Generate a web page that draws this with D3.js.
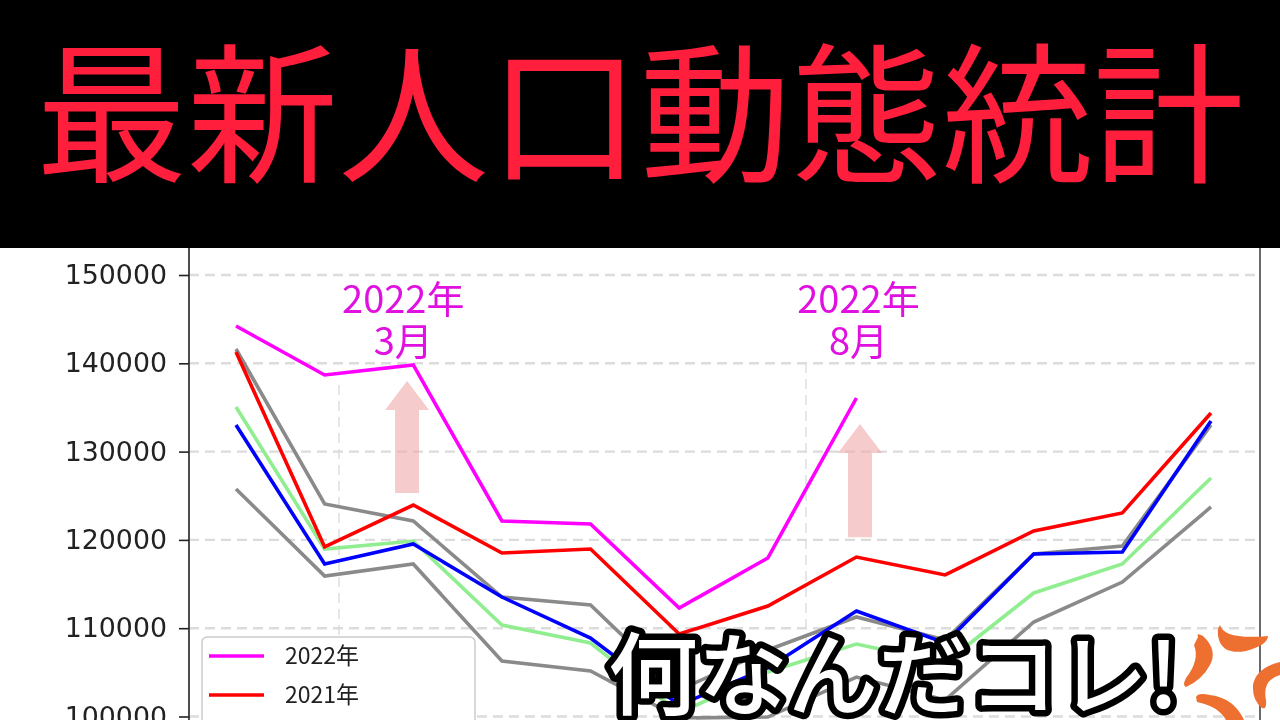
<!DOCTYPE html>
<html><head><meta charset="utf-8">
<script src="https://cdn.jsdelivr.net/npm/d3@7"></script>
<style>html,body{margin:0;padding:0;background:#fff;overflow:hidden}svg{display:block}</style>
</head><body><svg id="c" width="1280" height="720"></svg>
<script>
const months=[1,2,3,4,5,6,7,8,9,10,11,12];
const yTicks=[100000,110000,120000,130000,140000,150000];
const y2022=[144220,138680,139810,122140,121800,112290,117950,136070];
const y2021=[141280,119200,123950,118520,118970,109340,112510,118060,116030,121010,123050,134370];
const y2020=[133010,117270,119540,113530,108890,101300,105490,111950,108320,118400,118630,133470];
const y2019=[135050,118970,119870,110360,108320,100400,105040,108200,106060,113990,117270,127010];
const y2018=[141620,124070,122140,113530,112630,103000,107530,111270,108660,118400,119310,133010];
const y2017=[125770,115910,117270,106290,105150,99830,99940,104470,101870,110700,115230,123730];
const legendLabels=["2022年","2021年","2020年"];
const title="最新人口動態統計";
const callout="何なんだコレ!";
const notes=[{m:3,lines:["2022年","3月"]},{m:8,lines:["2022年","8月"]}];
const arrows=[{m:2.93,from:125300,to:138000},{m:8.04,from:120300,to:133130}];

const svg=d3.select("#c");
const x=d3.scaleLinear().domain([1,12]).range([236,1211]);
const y=d3.scaleLinear().domain([100000,150000]).range([716.5,275]);
const jp='"Noto Sans CJK JP",sans-serif';

const defs=svg.append("defs");
defs.append("filter").attr("id","soft").append("feGaussianBlur").attr("stdDeviation",0.55);

const chart=svg.append("g").attr("filter","url(#soft)");
chart.append("g").selectAll("line").data(yTicks).join("line")
 .attr("x1",189).attr("x2",1260).attr("y1",d=>y(d)).attr("y2",d=>y(d))
 .attr("stroke","#dcdcdc").attr("stroke-width",2.4).attr("stroke-dasharray","10 6");
chart.append("g").selectAll("line").data([{x:339,t:385},{x:806,t:363}]).join("line")
 .attr("x1",d=>d.x).attr("x2",d=>d.x).attr("y1",d=>d.t).attr("y2",720)
 .attr("stroke","#dcdcdc").attr("stroke-width",1.4).attr("stroke-dasharray","10 6");
const line=d3.line().x((d,i)=>x(months[i])).y(d=>y(d));
[[y2017,"#8a8a8a"],[y2018,"#8a8a8a"],[y2019,"#90ee90"],[y2020,"#0000ff"],[y2021,"#ff0000"],[y2022,"#ff00ff"]]
 .forEach(([s,c])=>chart.append("path").datum(s).attr("d",line).attr("fill","none")
   .attr("stroke",c).attr("stroke-width",3.6).attr("stroke-linejoin","miter"));
arrows.forEach(a=>{
 const cx=x(a.m),t=y(a.to),b=y(a.from);
 chart.append("path").attr("d",`M${cx},${t}L${cx+22},${t+29}L${cx+12},${t+29}L${cx+12},${b}L${cx-12},${b}L${cx-12},${t+29}L${cx-22},${t+29}Z`)
  .attr("fill","#f0a8a8").attr("opacity",0.6);
});
const ax=d3.axisLeft(y).tickValues(yTicks).tickSize(10).tickPadding(12).tickFormat(d3.format("d"));
const axg=chart.append("g").attr("transform","translate(189,0)").call(ax);
axg.selectAll("text").attr("font-family","'DejaVu Sans',sans-serif").attr("font-size",26.8).attr("fill","#222");
axg.selectAll("line").attr("stroke","#222").attr("stroke-width",1.6);
axg.select(".domain").attr("d","M0,240V720").attr("stroke","#222").attr("stroke-width",1.6);
chart.append("line").attr("x1",1260).attr("x2",1260).attr("y1",240).attr("y2",720).attr("stroke","#444").attr("stroke-width",1.6);
const lg=chart.append("g");
lg.append("rect").attr("x",202).attr("y",637).attr("width",273).attr("height",130).attr("rx",5)
 .attr("fill","#fff").attr("stroke","#ccc").attr("stroke-width",1.5);
[["#ff00ff",656],["#ff0000",695],["#0000ff",734]].forEach(([c,ly],i)=>{
 lg.append("line").attr("x1",209).attr("x2",264).attr("y1",ly).attr("y2",ly).attr("stroke",c).attr("stroke-width",3.6);
 lg.append("text").attr("x",285).attr("y",ly+8).text(legendLabels[i]).attr("font-family",jp).attr("font-size",23).attr("fill","#222");
});
notes.forEach(n=>{
 const cx=x(n.m)+(n.m===3?-10:2);
 n.lines.forEach((l,i)=>svg.append("text").attr("x",cx).attr("y",313+i*42).attr("text-anchor","middle")
  .attr("font-family",jp).attr("font-size",38).attr("fill","#e010e0").text(l));
});
svg.append("rect").attr("x",0).attr("y",0).attr("width",1280).attr("height",248).attr("fill","#000");
svg.append("text").attr("x",640).attr("y",171).attr("text-anchor","middle").attr("font-family",jp)
 .attr("font-size",151).attr("font-weight",400).attr("fill","#ff1e3c").text(title);
svg.append("text").attr("x",608).attr("y",708).attr("font-family",jp).attr("font-size",90).attr("font-weight",500)
 .attr("fill","#fff").attr("stroke","#000").attr("stroke-width",13).attr("stroke-linejoin","round")
 .attr("paint-order","stroke").text(callout);
const vein=svg.append("g").attr("fill","#ee7030");
["M1220,625Q1224,640 1268,636Q1268,645 1246,651Q1224,655 1219,640Q1216,630 1220,625Z",
 "M1198,637Q1196,632 1203,636Q1218,650 1210,665Q1202,680 1186,687Q1182,686 1186,678Q1200,660 1194,645Z",
 "M1280,662Q1256,668 1253,685Q1252,700 1262,708Q1267,710 1266,700Q1262,680 1280,675Z",
 "M1196,697Q1198,692 1210,695Q1234,698 1244,720L1226,720Q1218,706 1197,702Z"]
 .forEach(d=>vein.append("path").attr("d",d));
</script></body></html>
